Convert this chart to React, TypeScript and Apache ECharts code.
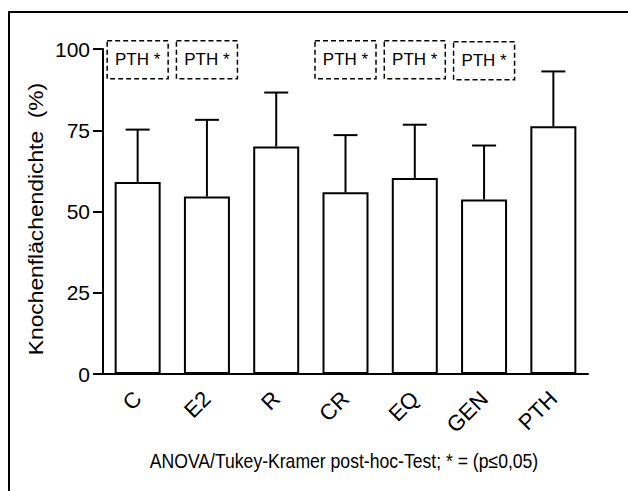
import React, { useEffect, useRef } from "react";
import * as echarts from "echarts";

const categories = ["C", "E2", "R", "CR", "EQ", "GEN", "PTH"];
const means = [59.1, 54.6, 70.0, 55.9, 60.3, 53.7, 76.2];
const upper = [75.2, 78.2, 86.6, 73.5, 76.7, 70.3, 93.1];
const sigLabels = ["PTH *", "PTH *", "", "PTH *", "PTH *", "PTH *", ""];
const sigLevel = [96.7, 96.7, 0, 96.7, 96.7, 96.4, 0];
const yMin = 0;
const yMax = 100;
const yStep = 25;
const yTitle = "Knochenflächendichte  (%)";
const footNote = "ANOVA/Tukey-Kramer post-hoc-Test; * = (p≤0,05)";

const FONT = "'Liberation Sans', Arial, Helvetica, sans-serif";

export default function App() {
  const ref = useRef<HTMLDivElement>(null);
  useEffect(() => {
    document.body.style.margin = "0";
    const chart = echarts.init(ref.current!, undefined, { renderer: "svg" });
    const errData = categories.map((_, i) => [i, means[i], upper[i]]);
    const sigData = categories
      .map((_, i) => ({ value: [i, sigLevel[i]], label: sigLabels[i] }))
      .filter((d) => d.label !== "");
    chart.setOption({
      animation: false,
      backgroundColor: "#fff",
      textStyle: { fontFamily: FONT, color: "#000" },
      grid: { left: 103, right: 40, top: 49, bottom: 117 },
      xAxis: {
        type: "category",
        data: categories,
        boundaryGap: true,
        axisLine: { lineStyle: { color: "#000", width: 2 } },
        axisTick: { alignWithLabel: true, length: 10, lineStyle: { color: "#000", width: 2 } },
        axisLabel: { rotate: 45, fontSize: 22, color: "#000", margin: 21, fontFamily: FONT },
        splitLine: { show: false },
      },
      yAxis: {
        type: "value",
        min: yMin,
        max: yMax,
        interval: yStep,
        axisLine: { show: true, lineStyle: { color: "#000", width: 2 } },
        axisTick: { show: true, length: 10, lineStyle: { color: "#000", width: 2 } },
        axisLabel: { fontSize: 21, color: "#000", margin: 13, fontFamily: FONT },
        splitLine: { show: false },
      },
      series: [
        {
          type: "bar",
          data: means,
          barWidth: 46,
          itemStyle: { color: "#fff", borderColor: "#000", borderWidth: 2 },
        },
        {
          type: "custom",
          data: errData,
          z: 3,
          renderItem: (params: any, api: any) => {
            const i = api.value(0);
            const p0 = api.coord([i, api.value(1)]);
            const p1 = api.coord([i, api.value(2)]);
            const hw = 12;
            const st = { stroke: "#000", lineWidth: 2 };
            return {
              type: "group",
              children: [
                { type: "line", shape: { x1: p0[0], y1: p0[1], x2: p1[0], y2: p1[1] }, style: st },
                { type: "line", shape: { x1: p1[0] - hw, y1: p1[1], x2: p1[0] + hw, y2: p1[1] }, style: st },
              ],
            };
          },
        },
        {
          type: "custom",
          data: sigData.map((d) => d.value),
          z: 4,
          renderItem: (params: any, api: any) => {
            const i = api.value(0);
            const p = api.coord([i, api.value(1)]);
            const w = 61;
            const h = 38;
            const txt = sigLabels[i];
            return {
              type: "group",
              children: [
                {
                  type: "rect",
                  shape: { x: p[0] - w / 2, y: p[1] - h / 2, width: w, height: h },
                  style: { fill: "none", stroke: "#000", lineWidth: 1.5, lineDash: [5, 3] },
                },
                {
                  type: "text",
                  style: {
                    text: txt,
                    x: p[0],
                    y: p[1],
                    align: "center",
                    verticalAlign: "middle",
                    fontSize: 17,
                    fontFamily: FONT,
                    fill: "#000",
                  },
                },
              ],
            };
          },
        },
      ],
      graphic: [
        {
          type: "rect",
          shape: { x: 9, y: 12, width: 700, height: 600 },
          style: { fill: "none", stroke: "#000", lineWidth: 2 },
          silent: true,
        },
        {
          type: "text",
          x: 36,
          y: 219,
          rotation: Math.PI / 2,
          scaleX: 1.14,
          style: {
            text: yTitle,
            x: 0,
            y: 0,
            align: "center",
            verticalAlign: "middle",
            fontSize: 20,
            fontFamily: FONT,
            fill: "#000",
          },
        },
        {
          type: "text",
          x: 344,
          y: 461,
          scaleX: 0.88,
          style: {
            text: footNote,
            x: 0,
            y: 0,
            align: "center",
            verticalAlign: "middle",
            fontSize: 20,
            fontFamily: FONT,
            fill: "#000",
          },
        },
      ],
    });
    return () => chart.dispose();
  }, []);
  return <div ref={ref} style={{ width: 628, height: 491 }} />;
}
